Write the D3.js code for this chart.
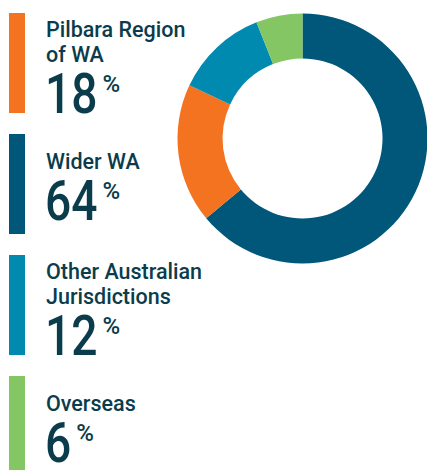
<!DOCTYPE html>
<html>
<head>
<meta charset="utf-8">
<script src="https://cdn.jsdelivr.net/npm/d3@7"></script>
<style>
  body { margin: 0; background: #fff; }
  svg { display: block; }
</style>
</head>
<body>
<div id="chart"></div>
<script>
// legend order (top to bottom)
const labels = [['Pilbara Region', 'of WA'], ['Wider WA'], ['Other Australian', 'Jurisdictions'], ['Overseas']];
const values = [18, 64, 12, 6];
const colors = ['#F37321', '#005779', '#008AB0', '#84C663'];
// donut slice order, clockwise from 12 o'clock
const sliceOrder = [1, 0, 2, 3];

const width = 427;
const height = 470;
const textColor = '#0B3C4B';
const fontFamily = 'Roboto, "Noto Sans", sans-serif';

const svg = d3.select('#chart')
    .append('svg')
        .attr('width', width)
        .attr('height', height);

// ---- donut ----
const cx = 302.5, cy = 138.5;
const outerR = 125, innerR = 80;

const pie = d3.pie().sort(null).value(i => values[i]);
const arc = d3.arc().innerRadius(innerR).outerRadius(outerR);

svg.append('g')
    .attr('transform', `translate(${cx},${cy})`)
  .selectAll('path')
  .data(pie(sliceOrder))
  .join('path')
    .attr('d', arc)
    .attr('fill', d => colors[d.data]);

// ---- legend ----
const yPos = d3.scaleLinear()
    .domain([0, labels.length - 1])
    .range([13, 376]);

const barH = 100;
const numScale = 0.84;

const item = svg.selectAll('g.item')
  .data(d3.range(labels.length))
  .join('g')
    .attr('class', 'item')
    .attr('transform', i => `translate(0,${yPos(i)})`);

item.append('rect')
    .attr('x', 9)
    .attr('y', 0)
    .attr('width', 16)
    .attr('height', barH)
    .attr('fill', i => colors[i]);

item.each(function (i) {
    const g = d3.select(this);
    const lines = labels[i];
    const first = lines.length === 1 ? 35 : 24;
    lines.forEach((t, k) => {
        g.append('text')
            .attr('x', 46)
            .attr('y', first + k * 25)
            .attr('fill', textColor)
            .style('font-family', fontFamily)
            .style('font-weight', 500)
            .style('font-size', '21.5px')
            .text(t);
    });

    const numBase = first + (lines.length - 1) * 25 + 51;

    const num = g.append('text')
        .attr('transform', `translate(45,${numBase}) scale(${numScale},1)`)
        .attr('fill', textColor)
        .style('font-family', fontFamily)
        .style('font-weight', 500)
        .style('font-size', '55px')
        .text(values[i]);

    const w = num.node().getComputedTextLength() * numScale;

    g.append('text')
        .attr('x', 45 + w + 5)
        .attr('y', numBase - 21)
        .attr('fill', textColor)
        .style('font-family', fontFamily)
        .style('font-weight', 500)
        .style('font-size', '24px')
        .text('%');
});
</script>
</body>
</html>
